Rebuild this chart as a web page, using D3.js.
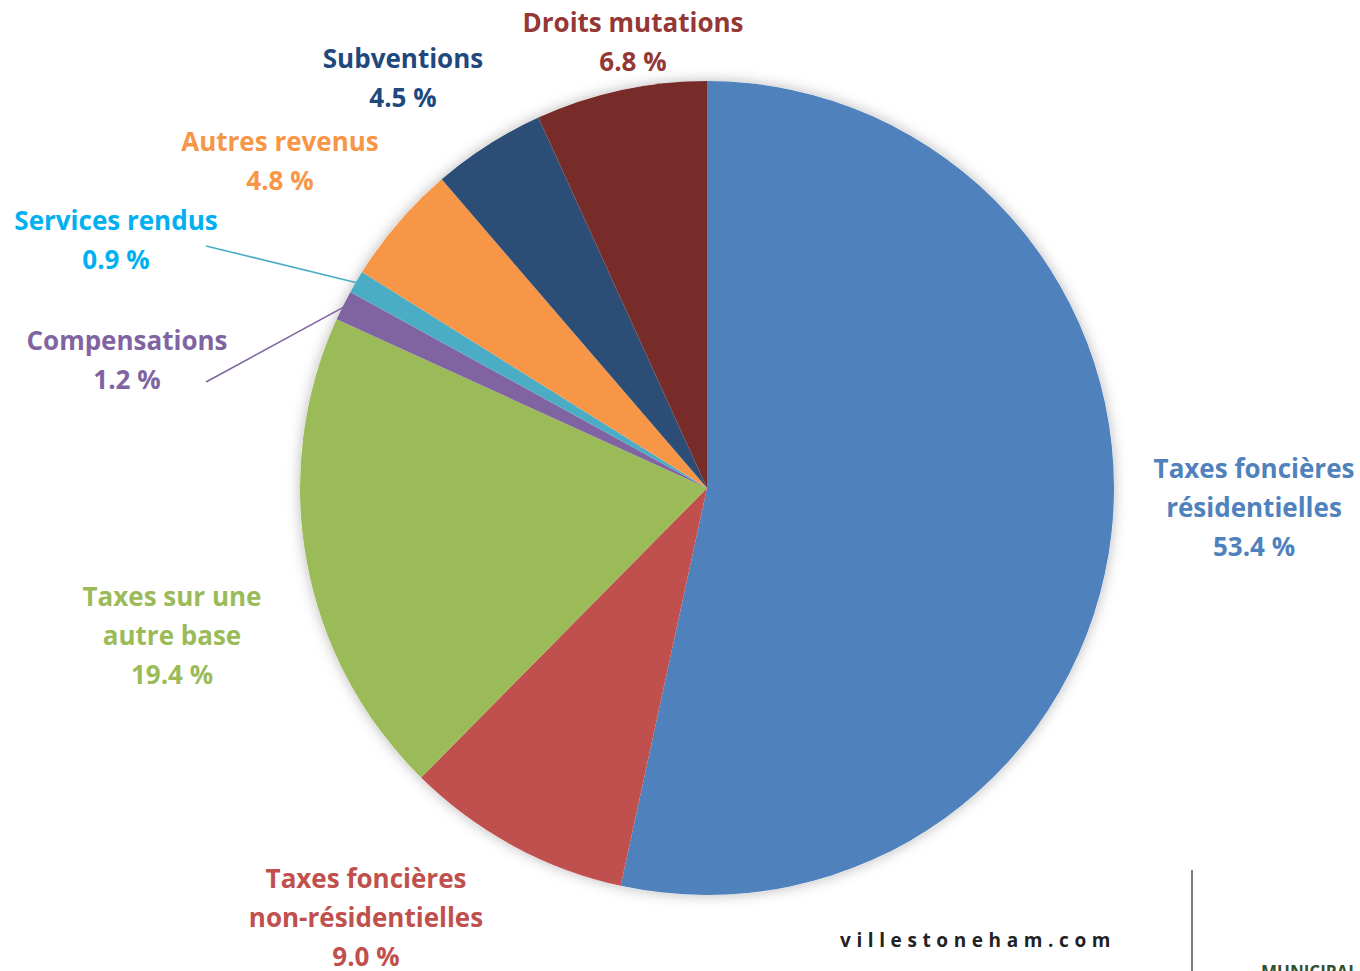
<!DOCTYPE html>
<html>
<head>
<meta charset="utf-8">
<script src="https://cdn.jsdelivr.net/npm/d3@7"></script>
<style>
  body { margin: 0; background: #fff; }
  text { font-family: "Open Sans", "Noto Sans", sans-serif; font-weight: 700; }
</style>
</head>
<body>
<div id="chart"></div>
<script>
// data
var labels = ["Taxes foncières résidentielles", "Taxes foncières non-résidentielles",
    "Taxes sur une autre base", "Compensations", "Services rendus",
    "Autres revenus", "Subventions", "Droits mutations"];
var values = [53.4, 9.0, 19.4, 1.2, 0.9, 4.8, 4.5, 6.8];

var sliceColors = ["#4F81BD", "#C0504D", "#9BBB59", "#8064A2", "#4BACC6", "#F79646", "#2C4D75", "#772C2A"];
var textColors = ["#4F81BD", "#C0504D", "#9BBB59", "#8064A2", "#00B0F0", "#F79646", "#1F497D", "#953735"];

// label lines and placement (block centre, offset from pie centre)
var labelLines = [
    ["Taxes foncières", "résidentielles"],
    ["Taxes foncières", "non-résidentielles"],
    ["Taxes sur une", "autre base"],
    ["Compensations"],
    ["Services rendus"],
    ["Autres revenus"],
    ["Subventions"],
    ["Droits mutations"]
];
var labelPos = [[547, 20], [-341, 430], [-535, 148], [-580, -128], [-591, -248], [-427, -327], [-304, -410], [-74, -446]];
var leaderEnd = [null, null, null, [-501, -106], [-501, -242], null, null, null];

var svgWidth = 1360, svgHeight = 971;
var cx = 707, cy = 488, radius = 407;
var lineH = 39;

var svg = d3.select("#chart").append("svg")
    .attr("width", svgWidth)
    .attr("height", svgHeight);

var defs = svg.append("defs");
var filter = defs.append("filter").attr("id", "shadow")
    .attr("x", "-10%").attr("y", "-10%").attr("width", "120%").attr("height", "120%");
filter.append("feDropShadow")
    .attr("dx", 0).attr("dy", 0)
    .attr("stdDeviation", 7)
    .attr("flood-color", "#000")
    .attr("flood-opacity", 0.28);

var g = svg.append("g")
    .attr("transform", "translate(" + [cx, cy] + ")");

var pie = d3.pie().sort(null);
var arc = d3.arc().innerRadius(0).outerRadius(radius);
var arcs = pie(values);

g.append("circle").attr("r", radius).attr("fill", "#fff").attr("filter", "url(#shadow)");

g.selectAll("path.slice")
    .data(arcs)
    .enter()
    .append("path")
    .attr("class", "slice")
    .attr("d", arc)
    .attr("fill", function (d, i) { return sliceColors[i]; });

// leader lines for the thin slices
g.selectAll("line.leader")
    .data(arcs.filter(function (d, i) { return leaderEnd[i]; }))
    .enter()
    .append("line")
    .attr("x1", function (d) { return leaderEnd[d.index][0]; })
    .attr("y1", function (d) { return leaderEnd[d.index][1]; })
    .attr("x2", function (d) { var a = (d.startAngle + d.endAngle) / 2; return Math.sin(a) * (radius - 2); })
    .attr("y2", function (d) { var a = (d.startAngle + d.endAngle) / 2; return -Math.cos(a) * (radius - 2); })
    .attr("stroke", function (d) { return sliceColors[d.index]; })
    .attr("stroke-width", 1.6);

// labels
var lab = g.selectAll("text.lbl")
    .data(arcs)
    .enter()
    .append("text")
    .attr("class", "lbl")
    .attr("text-anchor", "middle")
    .attr("font-size", "26px")
    .attr("fill", function (d, i) { return textColors[i]; })
    .attr("transform", function (d, i) { return "translate(" + labelPos[i] + ")"; });

lab.each(function (d, i) {
    var t = d3.select(this);
    var lines = labelLines[i].concat([d3.format(".1f")(values[i]) + " %"]);
    var y0 = -(lines.length - 1) * lineH / 2;
    lines.forEach(function (s, k) {
        t.append("tspan").attr("x", 0).attr("y", y0 + k * lineH).attr("dy", "0.35em").text(s);
    });
});

// footer
svg.append("text")
    .attr("x", 840).attr("y", 947)
    .attr("font-size", "19px")
    .attr("font-weight", 600)
    .attr("letter-spacing", "5.6px")
    .attr("fill", "#222")
    .text("villestoneham.com");

svg.append("line")
    .attr("x1", 1192).attr("x2", 1192)
    .attr("y1", 870).attr("y2", 971)
    .attr("stroke", "#555").attr("stroke-width", 1.5);

svg.append("text")
    .attr("x", 1261).attr("y", 978)
    .attr("font-size", "17px")
    .attr("font-weight", 400)
    .attr("fill", "#2f4f2f")
    .text("MUNICIPAL");
</script>
</body>
</html>
